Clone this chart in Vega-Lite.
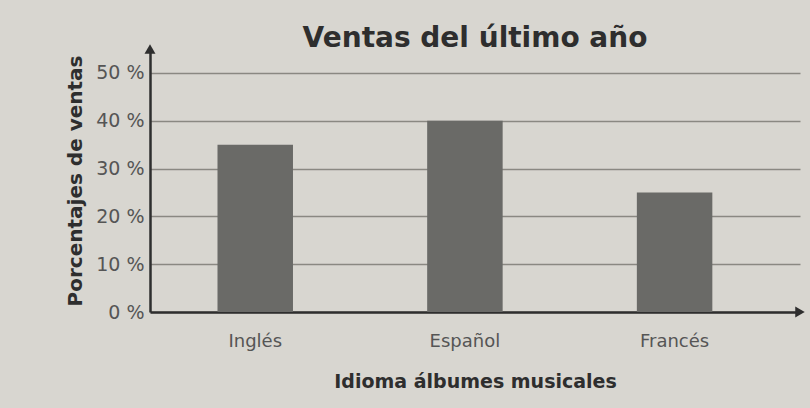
{
  "$schema": "https://vega.github.io/schema/vega-lite/v6.json",
  "autosize": "none",
  "width": 650,
  "height": 263,
  "padding": {"left": 150, "top": 49, "right": 10, "bottom": 96},
  "background": "#d8d6d0",
  "config": {
    "view": {"stroke": null},
    "font": "DejaVu Sans"
  },
  "title": {
    "text": "Ventas del último año",
    "fontSize": 28,
    "fontWeight": "bold",
    "color": "#2e2e2e",
    "anchor": "middle",
    "offset": -9
  },
  "datasets": {
    "ventas": [
      {"idioma": "Inglés", "porcentaje": 35},
      {"idioma": "Español", "porcentaje": 40},
      {"idioma": "Francés", "porcentaje": 25}
    ],
    "flechas": [
      {"pos": 0, "valor": 55, "forma": "triangle-up"},
      {"pos": 1, "valor": 0, "forma": "triangle-right"}
    ]
  },
  "layer": [
    {
      "data": {"name": "ventas"},
      "mark": {"type": "bar", "color": "#6a6a67"},
      "encoding": {
        "x": {
          "field": "idioma",
          "type": "nominal",
          "sort": ["Inglés", "Español", "Francés"],
          "scale": {"paddingInner": 0.64, "paddingOuter": 0.37, "align": 0.435},
          "axis": {
            "title": "Idioma álbumes musicales",
            "titleFontSize": 19,
            "titleFontWeight": "bold",
            "titleColor": "#2e2e2e",
            "titlePadding": 22,
            "labelAngle": 0,
            "labelFontSize": 18,
            "labelColor": "#555555",
            "labelPadding": 20,
            "ticks": false,
            "domainColor": "#2e2e2e",
            "domainWidth": 2.5
          }
        },
        "y": {
          "field": "porcentaje",
          "type": "quantitative",
          "title": "Porcentajes de ventas",
          "scale": {"domain": [0, 55], "nice": false},
          "axis": {
            "title": "Porcentajes de ventas",
            "titleFontSize": 20,
            "titleFontWeight": "bold",
            "titleColor": "#2e2e2e",
            "titlePadding": 10,
            "values": [0, 10, 20, 30, 40, 50],
            "labelExpr": "datum.value + ' %'",
            "labelFontSize": 19,
            "labelColor": "#555555",
            "labelPadding": 6,
            "ticks": false,
            "domainColor": "#2e2e2e",
            "domainWidth": 2.5,
            "grid": true,
            "gridColor": "#8a8882",
            "gridWidth": 1.5
          }
        }
      }
    },
    {
      "data": {"name": "flechas"},
      "mark": {"type": "point", "filled": true, "color": "#2e2e2e", "size": 120, "opacity": 1, "clip": false},
      "encoding": {
        "x": {"field": "pos", "type": "quantitative", "scale": {"domain": [0, 1]}, "axis": null},
        "y": {"field": "valor", "type": "quantitative", "title": "Porcentajes de ventas"},
        "shape": {"field": "forma", "type": "nominal", "scale": null, "legend": null}
      }
    }
  ],
  "resolve": {"scale": {"x": "independent"}}
}
